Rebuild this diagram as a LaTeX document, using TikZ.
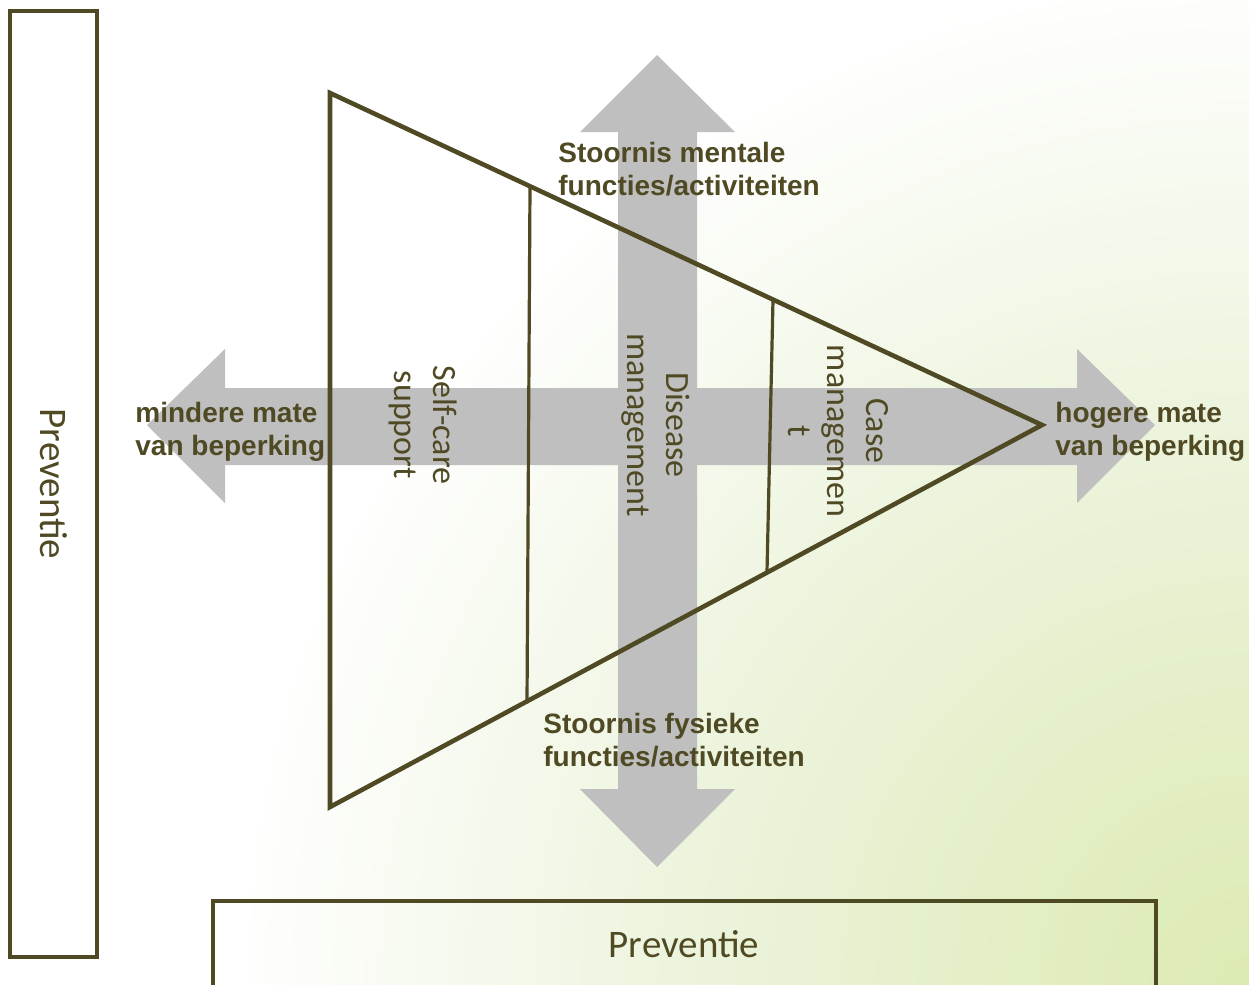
\documentclass[tikz,border=0pt]{standalone}
\usepackage{fontspec}
\setmainfont{Liberation Sans}
\newfontfamily\calfont{Carlito}
\usetikzlibrary{positioning}
\definecolor{olivedark}{HTML}{4F4A24}
\definecolor{arrowgrey}{HTML}{BFBFBF}
\definecolor{bggreen}{HTML}{DCEAB3}
\definecolor{bgmid}{HTML}{EBF3DA}
\pgfdeclareradialshading{cornerglow}{\pgfpoint{0bp}{0bp}}{color(0bp)=(bggreen); color(13bp)=(bgmid); color(25bp)=(white); color(50bp)=(white)}
\tikzset{>=latex}
\tikzstyle{frame} = [draw=olivedark, line width=2.3pt]
\tikzstyle{divider} = [draw=olivedark, line width=1.6pt]
\tikzstyle{bigarrow} = [fill=arrowgrey, draw=none]
\tikzstyle{axislabel} = [text=olivedark, font=\bfseries\fontsize{14}{16.5}\selectfont, align=left, inner sep=0pt, anchor=north west]
\tikzstyle{levellabel} = [text=olivedark, font=\calfont\fontsize{17}{19.5}\selectfont, align=center, rotate=-90, inner sep=0pt]
\tikzstyle{prevlabel} = [text=olivedark, font=\calfont\fontsize{19.5}{23}\selectfont, inner sep=0pt]
\begin{document}
\begin{tikzpicture}[x=0.5pt, y=-0.5pt]

\useasboundingbox (0,0) rectangle (1249,985);
\clip (0,0) rectangle (1249,985);

% background
\fill[white] (0,0) rectangle (1249,985);
\shade[shading=cornerglow] (1249,985) circle [radius=510pt];

% the two grey axes
\fill[bigarrow] (147,425) -- (225,349) -- (225,388) -- (1077,388) -- (1077,349)
  -- (1155,425) -- (1077,503) -- (1077,465) -- (225,465) -- (225,503) -- cycle;
\fill[bigarrow] (657,55) -- (735,132) -- (697,132) -- (697,789) -- (735,789)
  -- (657,867) -- (580,789) -- (618,789) -- (618,132) -- (580,132) -- cycle;

% pyramid
\coordinate (top) at (330,93);
\coordinate (bottom) at (330,807);
\coordinate (apex) at (1042,425);
\draw[frame] (top) -- (apex) -- (bottom) -- cycle;
\draw[divider] (530,187) -- (527,703);
\draw[divider] (773,300) -- (767,572);

% levels
\node[levellabel] (selfcare) at (423,425) {Self-care\\support};
\node[levellabel] (disease) at (656,425) {Disease\\management};
\node[levellabel] (casemgmt) at (838,431) {Case\\managemen\\t};

% axis labels
\node[axislabel] (mental) at (558,142) {Stoornis mentale\\functies/activiteiten};
\node[axislabel] (physical) at (543,713) {Stoornis fysieke\\functies/activiteiten};
\node[axislabel] (lower) at (135,402) {mindere mate\\van beperking};
\node[axislabel] (higher) at (1055,402) {hogere mate\\van beperking};

% prevention frames
\draw[frame] (10,11) rectangle (97,957);
\node[prevlabel, rotate=-90] (prevleft) at (54,484) {Preventie};
\draw[frame] (213,901) rectangle (1156,1000);
\node[prevlabel] (prevbottom) at (684,944) {Preventie};

\end{tikzpicture}
\end{document}
